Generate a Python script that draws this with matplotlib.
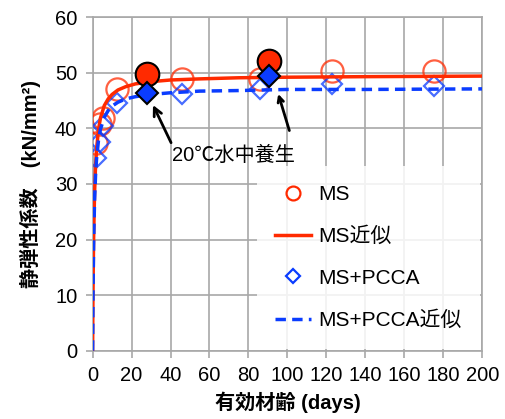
import matplotlib
matplotlib.use('Agg')
import matplotlib.pyplot as plt
from matplotlib.lines import Line2D

plt.rcParams['font.family'] = ['Liberation Sans', 'Noto Sans CJK JP', 'DejaVu Sans']

# measured points (effective age in days, modulus in kN/mm2)
ms_days = [1.5, 4.0, 5.5, 12.3, 46.0, 86.0, 123.0, 175.5]
ms_e = [37.3, 40.8, 41.8, 47.0, 48.9, 48.8, 50.3, 50.3]
pcca_days = [1.5, 4.0, 5.5, 12.3, 46.0, 86.0, 123.0, 175.5]
pcca_e = [34.6, 37.6, 40.4, 44.6, 46.1, 47.0, 47.9, 47.7]

# 20C water cured specimens
water_days = [27.7, 90.7]
water_ms_e = [49.8, 52.2]
water_pcca_e = [46.3, 49.5]

# approximation curves
fit_days = [0, 0.2, 0.5, 1, 1.5, 2, 3, 4, 6, 8, 10, 13, 17, 22, 30, 40, 55, 75, 100, 140, 200]
ms_fit = [0, 10.4, 19.8, 28.3, 33.1, 36.1, 39.7, 41.8, 44.1, 45.3, 46.1, 46.9, 47.5, 48.0,
          48.4, 48.7, 48.9, 49.1, 49.2, 49.3, 49.4]
pcca_fit = [0, 10.0, 18.9, 27.0, 31.5, 34.4, 37.8, 39.8, 42.0, 43.2, 44.0, 44.7, 45.3, 45.7,
            46.1, 46.4, 46.7, 46.8, 47.0, 47.0, 47.1]

red = '#ff2a00'
blue = '#0a3cff'

fig = plt.figure(figsize=(5.06, 4.19), dpi=100)
ax = fig.add_axes([0.183, 0.163, 0.770, 0.796])

ax.plot(ms_days, ms_e, 'o', ms=16, mfc='none', mec=red, mew=1.6, alpha=0.75, zorder=3)
ax.plot(fit_days, ms_fit, '-', color=red, lw=2.5, zorder=4)
ax.plot(pcca_days, pcca_e, 'D', ms=10, mfc='none', mec=blue, mew=1.6, alpha=0.75, zorder=3)
ax.plot(fit_days, pcca_fit, '--', color=blue, lw=2.5, dashes=(3, 1.8), zorder=5)

ax.plot(water_days, water_ms_e, 'o', ms=17, mfc=red, mec='black', mew=1.5, zorder=6)
ax.plot(water_days, water_pcca_e, 'D', ms=11, mfc=blue, mec='black', mew=1.5, zorder=7)

ax.annotate('20℃水中養生', xy=(31.0, 44.2), xytext=(72.5, 35.2), fontsize=14.5,
            ha='center', va='center', textcoords='data',
            arrowprops=dict(arrowstyle='->', color='black', lw=2, shrinkA=0, shrinkB=0,
                            relpos=(0.0, 1.0)),
            zorder=8)
ax.annotate('', xy=(95.3, 46.2), xytext=(101.0, 39.6),
            arrowprops=dict(arrowstyle='->', color='black', lw=2, shrinkA=0, shrinkB=0),
            zorder=8)

ax.set_xlim(0, 200)
ax.set_ylim(0, 60)
ax.set_xticks(range(0, 201, 20))
ax.set_yticks(range(0, 61, 10))
ax.grid(True, color='#a8a8a8', lw=1.2)
ax.set_axisbelow(True)
for s in ax.spines.values():
    s.set_color('#a8a8a8')
    s.set_linewidth(1.2)
ax.tick_params(direction='out', length=5, width=1.2, color='#a8a8a8', labelsize=14.5, pad=6)

ax.set_xlabel('有効材齢 (days)', fontsize=14.5, fontweight='bold', labelpad=5)
ax.set_ylabel('静弾性係数　(kN/mm²)', fontsize=14.5, fontweight='bold', labelpad=10)

handles = [
    Line2D([], [], ls='none', marker='o', ms=10, mfc='none', mec=red, mew=1.6),
    Line2D([], [], color=red, lw=2.5),
    Line2D([], [], ls='none', marker='D', ms=7, mfc='none', mec=blue, mew=1.6),
    Line2D([], [], color=blue, lw=2.5, ls='--', dashes=(3, 1.8)),
]
leg = ax.legend(handles, ['MS', 'MS近似', 'MS+PCCA', 'MS+PCCA近似'], loc='lower right',
                fontsize=15, frameon=True, framealpha=0.85, edgecolor='none', fancybox=False,
                handlelength=1.7, handletextpad=0.35, labelspacing=1.08,
                borderaxespad=0.1, borderpad=0.9)
leg.get_frame().set_facecolor('white')

fig.savefig('out.png', dpi=100)
